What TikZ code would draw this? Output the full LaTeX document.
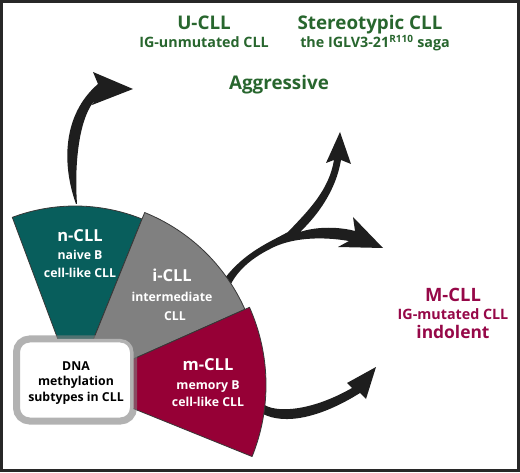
\documentclass[tikz,border=0pt]{standalone}
\usepackage{fontspec}
\setmainfont{Open Sans}
\definecolor{tealc}{RGB}{8,94,92}
\definecolor{grayc}{RGB}{128,128,128}
\definecolor{crimc}{RGB}{150,0,54}
\definecolor{greenc}{RGB}{40,102,46}
\definecolor{crimtext}{RGB}{150,8,72}
\definecolor{arrowc}{RGB}{30,30,30}
\definecolor{framec}{RGB}{40,40,40}
\definecolor{edgec}{RGB}{55,55,55}
\definecolor{boxgray}{RGB}{128,128,128}
\newcommand{\myfs}[1]{\fontsize{#1}{#1}\selectfont\bfseries}
\begin{document}
\begin{tikzpicture}[x=1pt,y=1pt,
  sector/.style={draw=edgec, line width=0.8pt, line join=round},
  arrowshape/.style={fill=arrowc},
  lbl/.style={anchor=base, inner sep=0pt},
  wbig/.style={lbl, text=white, font=\myfs{16.5}},
  wsmall/.style={lbl, text=white, font=\myfs{12.3}},
  dnatext/.style={lbl, text=black, font=\myfs{12.3}},
  gbig/.style={lbl, text=greenc, font=\myfs{18.8}},
  gsmall/.style={lbl, text=greenc, font=\myfs{14.3}},
  cbig/.style={lbl, text=crimtext, font=\myfs{18.4}},
  csmall/.style={lbl, text=crimtext, font=\myfs{14.3}},
  dnabox/.style={draw=boxgray, draw opacity=0.6, fill=white, line width=7pt,
    rounded corners=13pt, minimum width=117pt, minimum height=82pt, inner sep=0pt}
]
\useasboundingbox (0,0) rectangle (520,472);
\fill[white] (0,0) rectangle (520,472);

% arrows
\coordinate (a1s) at (76,268);
\coordinate (a1t) at (133,383);
\fill[arrowshape] (a1s) .. controls (62,307) and (62,357) .. (98,388)
  -- (93,400) -- (a1t) -- (92,367) -- (96,373)
  .. controls (80,357) and (74,312) .. (77,268) -- cycle;

\coordinate (a2s) at (225,194);
\coordinate (a2t) at (340,340);
\coordinate (a2u) at (383,224);
\fill[arrowshape] (a2s) .. controls (245,220) and (270,230) .. (288,240)
  .. controls (309,262) and (329,282) .. (334,312)
  -- (326,309) -- (a2t) -- (351,308) -- (341,312)
  .. controls (336,282) and (318,257) .. (300,240)
  .. controls (318,246) and (340,245) .. (355,241)
  -- (353,255) -- (a2u) -- (338,225) -- (349,231)
  .. controls (320,236) and (290,234) .. (270,223)
  .. controls (250,213) and (236,200) .. (229,184) -- cycle;

\coordinate (a3s) at (263,68);
\coordinate (a3t) at (376,105);
\fill[arrowshape] (a3s) .. controls (275,59) and (310,60) .. (352,84)
  -- (347,89) -- (a3t) -- (366,73) -- (360,79)
  .. controls (320,54) and (285,47) .. (263,58) -- cycle;

% sectors
\coordinate (C) at (75,87);
\path[sector, fill=tealc] (C) -- ++(110.5:179) arc[start angle=110.5, end angle=68, radius=179] -- cycle;
\path[sector, fill=grayc] (C) -- ++(68:186) arc[start angle=68, end angle=24, radius=186] -- cycle;
\path[sector, fill=crimc] (C) -- ++(24:191) arc[start angle=24, end angle=-22, radius=191] -- cycle;

% box
\node[dnabox] (dna) at (75,92) {};

% sector labels
\node[wbig] (n1) at (80,230) {n-CLL};
\node[wsmall] (n2) at (80,212) {naive B};
\node[wsmall] (n3) at (80,194) {cell-like CLL};
\node[wbig] (i1) at (172,190) {i-CLL};
\node[wsmall] (i2) at (172,170.3) {intermediate};
\node[wsmall] (i3) at (175,151.3) {CLL};
\node[wbig] (m1) at (208,101.3) {m-CLL};
\node[wsmall] (m2) at (208,83) {memory B};
\node[wsmall] (m3) at (208,65.3) {cell-like CLL};
\node[dnatext] (d1) at (76,101.3) {DNA};
\node[dnatext] (d2) at (76,86.3) {methylation};
\node[dnatext] (d3) at (76,70.3) {subtypes in CLL};

% outcome labels
\node[gbig] (u1) at (204,442) {U-CLL};
\node[gsmall] (u2) at (204,424) {IG-unmutated CLL};
\node[gbig] (s1) at (370,442) {Stereotypic CLL};
\node[gsmall] (s2) at (375,424) {the IGLV3-21\textsuperscript{R110} saga};
\node[gbig] (ag) at (279,382) {Aggressive};
\node[cbig] (mc1) at (453,170.5) {M-CLL};
\node[csmall] (mc2) at (453,152) {IG-mutated CLL};
\node[lbl, text=crimtext, font=\myfs{17.4}] (mc3) at (453,133) {indolent};

% frame
\draw[framec, line width=3pt] (1.5,1.5) rectangle (518.5,470.5);
\end{tikzpicture}
\end{document}
